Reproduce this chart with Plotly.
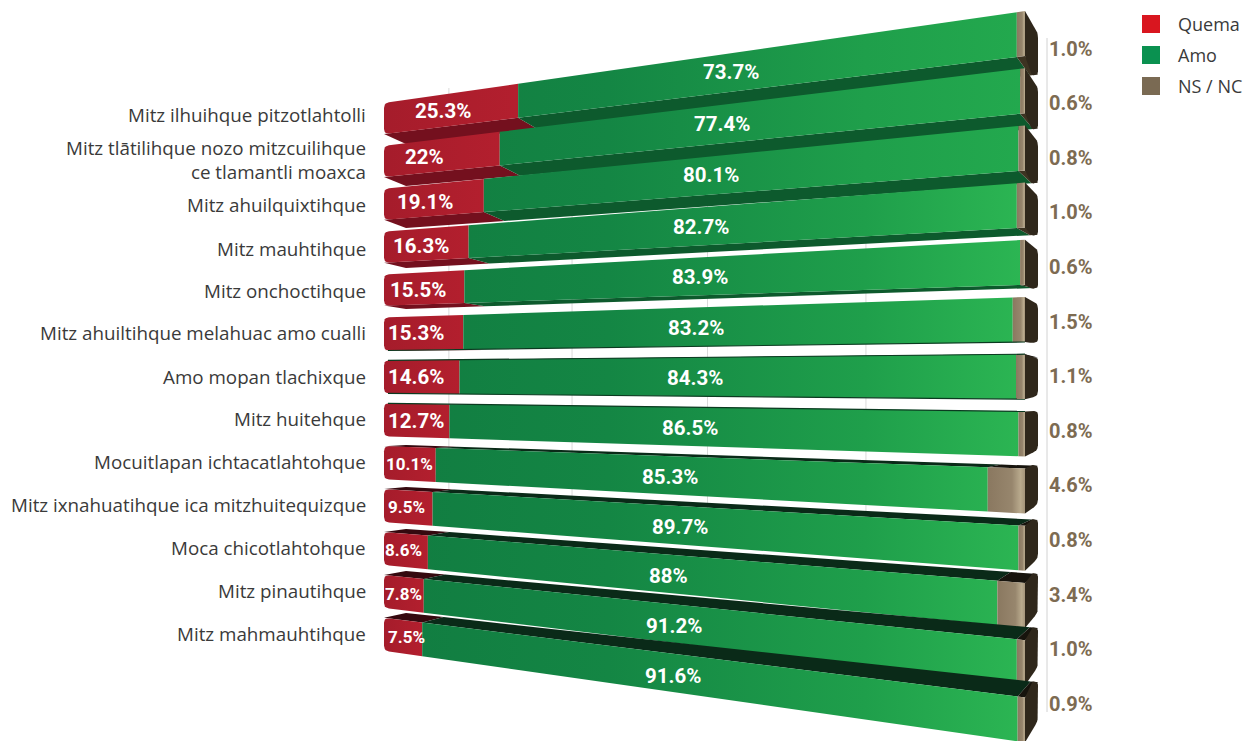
import plotly.graph_objects as go

categories = ["Mitz ilhuihque pitzotlahtolli", "Mitz tlātilihque nozo mitzcuilihque<br>ce tlamantli moaxca",
              "Mitz ahuilquixtihque", "Mitz mauhtihque", "Mitz onchoctihque",
              "Mitz ahuiltihque melahuac amo cualli", "Amo mopan tlachixque", "Mitz huitehque",
              "Mocuitlapan ichtacatlahtohque", "Mitz ixnahuatihque ica mitzhuitequizque",
              "Moca chicotlahtohque", "Mitz pinautihque", "Mitz mahmauhtihque"]
quema = [25.3, 22, 19.1, 16.3, 15.5, 15.3, 14.6, 12.7, 10.1, 9.5, 8.6, 7.8, 7.5]
amo = [73.7, 77.4, 80.1, 82.7, 83.9, 83.2, 84.3, 86.5, 85.3, 89.7, 88, 91.2, 91.6]
ns = [1.0, 0.6, 0.8, 1.0, 0.6, 1.5, 1.1, 0.8, 4.6, 0.8, 3.4, 1.0, 0.9]
quema_labels = ["25.3%", "22%", "19.1%", "16.3%", "15.5%", "15.3%", "14.6%", "12.7%", "10.1%", "9.5%", "8.6%", "7.8%", "7.5%"]
amo_labels = ["73.7%", "77.4%", "80.1%", "82.7%", "83.9%", "83.2%", "84.3%", "86.5%", "85.3%", "89.7%", "88%", "91.2%", "91.6%"]
ns_labels = ["1.0%", "0.6%", "0.8%", "1.0%", "0.6%", "1.5%", "1.1%", "0.8%", "4.6%", "0.8%", "3.4%", "1.0%", "0.9%"]
legend_names = ["Quema", "Amo", "NS / NC"]
legend_colors = ["#d9161f", "#0a9150", "#7a6a53"]
grid_values = [12.6, 34.7, 56.6, 79.5]

# --- perspective of the drawing ---
LABEL_FONT = "Open Sans"
VALUE_FONT = "Roboto"
XL, XR, C = 384.0, 1025.0, 1.28
BXL, BXR = 406.0, 1038.0
def persp(v):
    t = v / 100.0
    return t / (t + C * (1 - t))
def front(i, v, e):
    s = persp(v)
    lt, rt = 103 + 42.9 * i, 11 + 57.2 * i
    lh, rh = (31.0 if i < 5 else 33.0), 45.0
    y = lt + e * lh + s * ((rt + e * rh) - (lt + e * lh))
    return XL + s * (XR - XL), y
def back(i, v, e):
    s = persp(v)
    extra = 3.0 if i <= 2 else (1.0 if i == 3 else 0.0)
    lt, rt = 361 + 42 * (i - 6), 33 + 54.1 * i
    lh, rh = 32.0 + extra, 38.5 + extra
    y = lt + e * lh + s * ((rt + e * rh) - (lt + e * lh))
    return BXL + s * (BXR - BXL), y
def round_poly(pts, radii):
    out = []
    n = len(pts)
    for k, (p, r) in enumerate(zip(pts, radii)):
        if r == 0:
            out.append(p); continue
        a, b = pts[k - 1], pts[(k + 1) % n]
        da = ((a[0]-p[0])**2 + (a[1]-p[1])**2) ** .5
        db = ((b[0]-p[0])**2 + (b[1]-p[1])**2) ** .5
        ra, rb = min(r, da/2) / da, min(r, db/2) / db
        p0 = (p[0] + (a[0]-p[0])*ra, p[1] + (a[1]-p[1])*ra)
        p1 = (p[0] + (b[0]-p[0])*rb, p[1] + (b[1]-p[1])*rb)
        for j in range(6):
            u = j / 5
            out.append(((1-u)**2*p0[0] + 2*u*(1-u)*p[0] + u*u*p1[0],
                        (1-u)**2*p0[1] + 2*u*(1-u)*p[1] + u*u*p1[1]))
    return out

fig = go.Figure()
def poly(pts, color=None, grad=None):
    xs = [p[0] for p in pts] + [pts[0][0]]
    ys = [p[1] for p in pts] + [pts[0][1]]
    kw = dict(fillcolor=color) if color else dict(fillgradient=grad)
    fig.add_trace(go.Scatter(x=xs, y=ys, mode="lines", fill="toself", line=dict(width=0),
                             hoverinfo="skip", showlegend=False, **kw))
def edge(i, e, color):
    a, b = front(i, 0, e), front(i, 100, e)
    fig.add_trace(go.Scatter(x=[a[0] + 4, b[0]], y=[a[1] + (4 if e == 0 else 0) * 0, b[1]], mode="lines",
                             line=dict(color=color, width=1.2), hoverinfo="skip", showlegend=False))

# gridlines and right rule
for g in grid_values:
    gx = XL + persp(g) * (XR - XL)
    fig.add_trace(go.Scatter(x=[gx, gx], y=[88, 520], mode="lines", line=dict(color="#dadada", width=1),
                             hoverinfo="skip", showlegend=False))
fig.add_trace(go.Scatter(x=[1047, 1047], y=[38, 712], mode="lines", line=dict(color="#d2d2d2", width=1),
                         hoverinfo="skip", showlegend=False))

for i in range(len(categories)):
    q, a, n = quema[i], amo[i], ns[i]
    edges = [0, q, q + a, 100]
    # hidden-face bands: underside on upper rows, top on lower rows
    upper = i < 6
    e = 1 if upper else 0
    band_cols = (["#74101e", "#0d5a2d", "#3d3322"] if upper else ["#35090f", "#0a2a18", "#17140d"])
    for k in range(3):
        v0, v1 = edges[k], edges[k + 1]
        pts = [front(i, v0, e), front(i, v1, e), back(i, v1, e), back(i, v0, e)]
        poly(pts, color=band_cols[k])
    # right side
    fT, bT, bB, fB = front(i, 100, 0), back(i, 100, 0), back(i, 100, 1), front(i, 100, 1)
    if upper:
        side, radii = [fT, bT, bB, (BXR - 6, bB[1] + 1), fB], [0, 5, 3, 2, 0]
    else:
        side, radii = [fT, (BXR - 6, bT[1] - 1), bT, bB, fB], [0, 2, 3, 5, 0]
    poly(round_poly(side, radii), color="#2f271b")
    # front faces
    red = [front(i, 0, 0), front(i, q, 0), front(i, q, 1), front(i, 0, 1)]
    poly(round_poly(red, [5, 0, 0, 5]), grad=dict(type="horizontal", start=XL, stop=front(i, q, 0)[0],
         colorscale=[[0, "#a51c2b"], [1, "#b31f2e"]]))
    green = [front(i, q, 0), front(i, q + a, 0), front(i, q + a, 1), front(i, q, 1)]
    bright = "#23a94e" if i < 3 else "#2cb653"
    poly(green, grad=dict(type="horizontal", start=XL, stop=XR,
         colorscale=[[0, "#117c41"], [0.35, "#148644"], [0.75, "#1f9f4b"], [1, bright]]))
    brown = [front(i, q + a, 0), front(i, 100, 0), front(i, 100, 1), front(i, q + a, 1)]
    poly(brown, grad=dict(type="horizontal", start=front(i, q + a, 0)[0], stop=XR,
         colorscale=[[0, "#8a7860"], [0.65, "#97866d"], [0.88, "#b9aa8d"], [1, "#a4947a"]]))
    if i in (5, 6):
        edge(i, 1, "#0b3a20")
    if i in (6, 7):
        edge(i, 0, "#0b3a20")

annots = []
def note(x, y, text, size, color, family, bold=False, anchor="center"):
    annots.append(dict(x=x, y=y, text=("<b>%s</b>" % text) if bold else text, showarrow=False, xanchor=anchor,
                       yanchor="middle", xref="x", yref="y",
                       font=dict(family=family, size=size, color=color), align="right"))

cat_y = [115, 159.5, 205, 249, 291, 333, 377, 419, 462, 505, 548, 591, 634]
for i, c in enumerate(categories):
    note(368, cat_y[i], c, 18.8, "#3a3a3a", LABEL_FONT, anchor="right")
    q, a = quema[i], amo[i]
    rx, ry = front(i, q / 2, 0.5)
    nudge = [-6, -16, -8, -5, -5, -7, -5, 0, 0, -2, -2, 0, 4][i]
    note(rx + nudge, ry + (1.5 if i < 5 else 0), quema_labels[i], 20.5 if i < 8 else 17, "white", VALUE_FONT, bold=True)
    gx, gy = front(i, q + a / 2, 0.5)
    note(gx - 13, gy + 1, amo_labels[i], 20.5, "white", VALUE_FONT, bold=True)
    note(1047, 48.5 + 54.6 * i, ns_labels[i], 20, "#7d6b52", VALUE_FONT, bold=True, anchor="left")

for k, name in enumerate(legend_names):
    fig.add_trace(go.Scatter(x=[1151], y=[24 + 31 * k], mode="markers",
                             marker=dict(symbol="square", size=18, color=legend_colors[k], line=dict(width=0)),
                             name=name, showlegend=False, hoverinfo="skip"))
    note(1176, 24 + 31 * k, name, 18, "#3a3a3a", LABEL_FONT, anchor="left")

fig.update_layout(width=1244, height=741, margin=dict(l=0, r=0, t=0, b=0), paper_bgcolor="white",
                  plot_bgcolor="white", showlegend=False, annotations=annots,
                  xaxis=dict(range=[0, 1244], visible=False, fixedrange=True),
                  yaxis=dict(range=[741, 0], visible=False, fixedrange=True))
fig.write_html("out.html", post_script="document.body.style.margin='0';document.body.style.overflow='hidden';",
               config={"displayModeBar": False})
